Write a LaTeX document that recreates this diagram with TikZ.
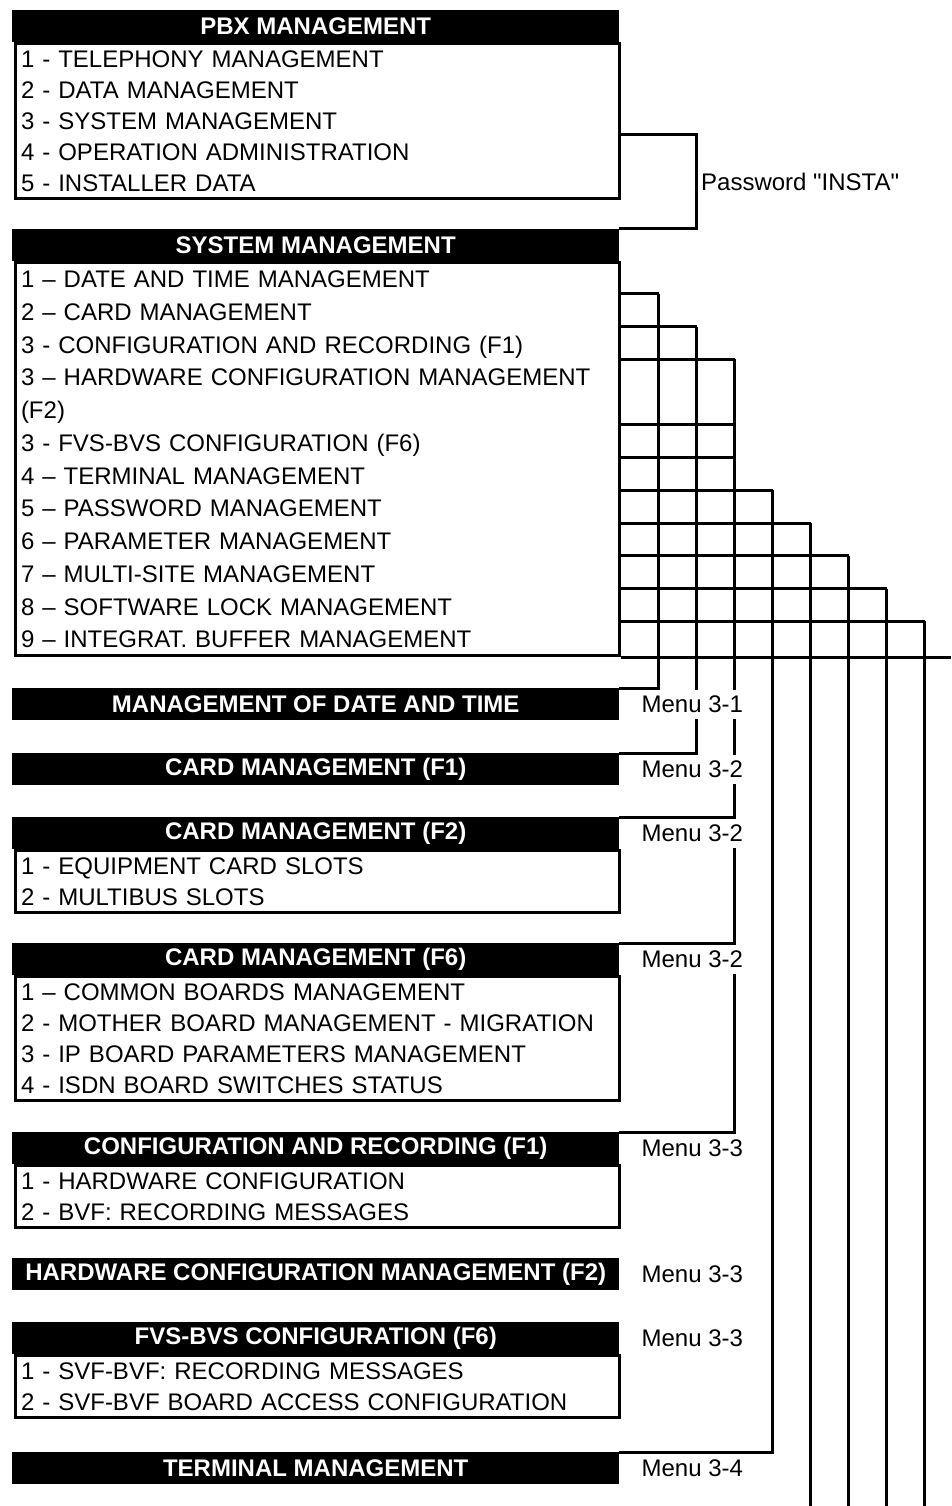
\documentclass[tikz,border=0pt]{standalone}
\usepackage{fontspec}
\setmainfont{Liberation Sans}[Ligatures=TeXOff]
\usetikzlibrary{calc}
\usetikzlibrary{positioning}

\newcommand{\menufont}{\fontsize{24}{31}\selectfont}
\newcommand{\rw}{\leavevmode\vrule height .77\baselineskip depth .23\baselineskip width 0pt\relax}

\tikzset{
  head/.style={fill=black, text=white, font=\menufont\bfseries, anchor=north west,
    minimum width=607pt, minimum height=32pt, inner sep=0pt},
  body/.style={draw, line width=3pt, anchor=north west, text width=592pt,
    inner xsep=6pt, inner ysep=0pt, align=left},
  wire/.style={line width=3pt},
  menu/.style={fill=white, minimum height=29pt, inner xsep=3pt, inner ysep=0pt},
}

\begin{document}
\begin{tikzpicture}[x=1pt, y=-1pt, font=\menufont]
        \useasboundingbox (0,0) rectangle (951,1506);
        \coordinate (rim) at (951,1506);
        \node[head] (pbxh) at (12,10) {PBX MANAGEMENT};
        \node[body] (pbxb) at (13.5,42) {\rw 1 - TELEPHONY MANAGEMENT\\\rw 2 - DATA MANAGEMENT\\\rw 3 - SYSTEM MANAGEMENT\\\rw 4 - OPERATION ADMINISTRATION\\\rw 5 - INSTALLER DATA};
        \node[head] (sysh) at (12,229) {SYSTEM MANAGEMENT};
        \node[body, font=\fontsize{24}{32.75}\selectfont] (sysb) at (13.5,261) {\rw 1 – DATE AND TIME MANAGEMENT\\\rw 2 – CARD MANAGEMENT\\\rw 3 - CONFIGURATION AND RECORDING (F1)\\\rw 3 – HARDWARE CONFIGURATION MANAGEMENT\\\rw (F2)\\\rw 3 - FVS-BVS CONFIGURATION (F6)\\\rw 4 – TERMINAL MANAGEMENT\\\rw 5 – PASSWORD MANAGEMENT\\\rw 6 – PARAMETER MANAGEMENT\\\rw 7 – MULTI-SITE MANAGEMENT\\\rw 8 – SOFTWARE LOCK MANAGEMENT\\\rw 9 – INTEGRAT. BUFFER MANAGEMENT};
        \node[head] (dth) at (12,688) {MANAGEMENT OF DATE AND TIME};
        \node[head] (cm1) at (12,753) {CARD MANAGEMENT (F1)};
        \node[head] (cm2) at (12,817) {CARD MANAGEMENT (F2)};
        \node[body] (cm2b) at (13.5,849) {\rw 1 - EQUIPMENT CARD SLOTS\\\rw 2 - MULTIBUS SLOTS};
        \node[head] (cm6) at (12,943) {CARD MANAGEMENT (F6)};
        \node[body] (cm6b) at (13.5,975) {\rw 1 – COMMON BOARDS MANAGEMENT\\\rw 2 - MOTHER BOARD MANAGEMENT - MIGRATION\\\rw 3 - IP BOARD PARAMETERS MANAGEMENT\\\rw 4 - ISDN BOARD SWITCHES STATUS};
        \node[head] (cfg) at (12,1132) {CONFIGURATION AND RECORDING (F1)};
        \node[body] (cfgb) at (13.5,1164) {\rw 1 - HARDWARE CONFIGURATION\\\rw 2 - BVF: RECORDING MESSAGES};
        \node[head] (hw) at (12,1258) {HARDWARE CONFIGURATION MANAGEMENT (F2)};
        \node[head] (fvs) at (12,1322) {FVS-BVS CONFIGURATION (F6)};
        \node[body] (fvsb) at (13.5,1354) {\rw 1 - SVF-BVF: RECORDING MESSAGES\\\rw 2 - SVF-BVF BOARD ACCESS CONFIGURATION};
        \node[head] (trm) at (12,1452) {TERMINAL MANAGEMENT};
        \draw[wire] ($(pbxb.north east)+(0,93)$) -- ++(76,0) |- (sysh.north east);
        \node[anchor=west, inner sep=2pt] (pw) at (699,182) {Password "INSTA"};
        \coordinate (g) at (sysb.north east);
        \foreach \k/\c in {1/1,2/2,3/3,5/3,6/3,7/4,8/5,9/6,10/7,11/8}
            \draw[wire] ($(g)+(0,32.75*\k)$) -- ++(38*\c,0);
        \draw[wire] ($(g)+(38,32.75)$) |- (dth.north east);
        \draw[wire] ($(g)+(76,65.5)$) |- (cm1.north east);
        \draw[wire] ($(g)+(114,98.25)$) coordinate (c3) |- (cfg.north east);
        \draw[wire] (cm2.north east) -| (c3);
        \draw[wire] (cm6.north east) -| (c3);
        \draw[wire] ($(g)+(152,229.25)$) |- (trm.north east);
        \foreach \c/\k in {5/8,6/9,7/10,8/11}
            \draw[wire] ($(g)+(38*\c,32.75*\k)$) coordinate (t) -- (t |- rim);
        \draw[wire] (sysb.south east) -- (sysb.south east -| rim);
        \node[menu, right=19pt of dth] (m31) {Menu 3-1};
        \node[menu, right=19pt of cm1] (m32a) {Menu 3-2};
        \node[menu, right=19pt of cm2] (m32b) {Menu 3-2};
        \node[menu, right=19pt of cm6] (m32c) {Menu 3-2};
        \node[menu, right=19pt of cfg] (m33a) {Menu 3-3};
        \node[menu, right=19pt of hw] (m33b) {Menu 3-3};
        \node[menu, right=19pt of fvs] (m33c) {Menu 3-3};
        \node[menu, right=19pt of trm] (m34) {Menu 3-4};
    \end{tikzpicture}
\end{document}
